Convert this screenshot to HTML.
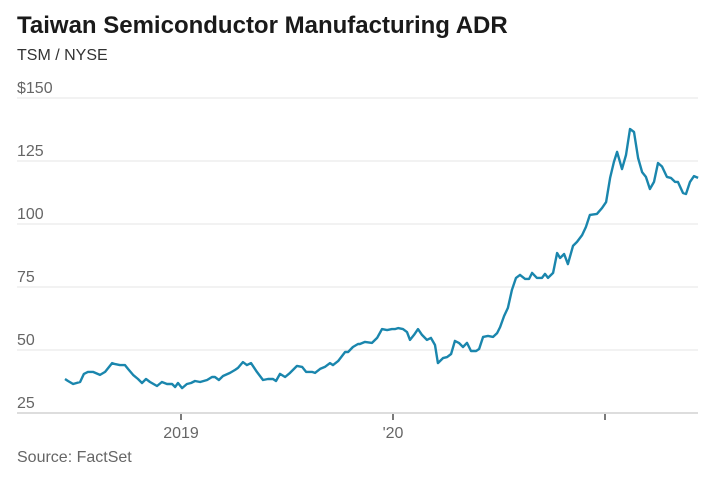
<!DOCTYPE html>
<html><head><meta charset="utf-8"><style>
body{margin:0;background:#fff;width:715px;height:477px;overflow:hidden;font-family:"Liberation Sans",sans-serif}
</style></head><body>
<svg width="715" height="477" id="c">
<text x="17" y="33" font-size="24" font-weight="bold" fill="#1a1a1a">Taiwan Semiconductor Manufacturing ADR</text>
<text x="17" y="60" font-size="16" fill="#333">TSM / NYSE</text>
<text x="17" y="462" font-size="16" fill="#666">Source: FactSet</text>
<g id="grid"></g><g id="xa"></g><g id="ln"></g>
</svg>
<script>
const yTicks=[25,50,75,100,125,150];
const yTickLabels=["25","50","75","100","125","$150"];
const xTicks=[2019,2020,2021];
const xTickLabels=["2019","'20",""];
const dates=[2018.453,2018.467,2018.491,2018.524,2018.542,2018.561,2018.585,2018.618,2018.642,2018.675,2018.689,2018.712,2018.736,2018.750,2018.774,2018.797,2018.816,2018.835,2018.854,2018.887,2018.910,2018.934,2018.958,2018.972,2018.986,2019.005,2019.028,2019.047,2019.066,2019.090,2019.123,2019.146,2019.160,2019.179,2019.198,2019.231,2019.255,2019.269,2019.292,2019.311,2019.330,2019.358,2019.387,2019.410,2019.434,2019.448,2019.467,2019.491,2019.514,2019.547,2019.571,2019.590,2019.618,2019.632,2019.656,2019.679,2019.703,2019.717,2019.741,2019.774,2019.788,2019.811,2019.835,2019.844,2019.868,2019.901,2019.925,2019.948,2019.972,2019.995,2020.009,2020.024,2020.047,2020.066,2020.080,2020.099,2020.118,2020.137,2020.160,2020.179,2020.198,2020.212,2020.236,2020.255,2020.274,2020.292,2020.311,2020.330,2020.349,2020.368,2020.392,2020.406,2020.425,2020.448,2020.472,2020.491,2020.505,2020.524,2020.542,2020.561,2020.580,2020.599,2020.623,2020.642,2020.656,2020.679,2020.703,2020.717,2020.731,2020.755,2020.774,2020.788,2020.807,2020.825,2020.849,2020.868,2020.892,2020.910,2020.929,2020.962,2020.986,2021.005,2021.024,2021.042,2021.057,2021.080,2021.099,2021.118,2021.137,2021.156,2021.175,2021.193,2021.212,2021.231,2021.250,2021.269,2021.292,2021.311,2021.330,2021.344,2021.368,2021.382,2021.401,2021.420,2021.439];
const prices=[38.5,37.7,36.5,37.3,40.5,41.3,41.3,40.1,41.3,44.8,44.4,44.0,44.0,42.5,40.1,38.5,36.9,38.5,37.3,35.7,37.3,36.5,36.5,35.3,36.9,34.9,36.5,36.9,37.7,37.3,38.1,39.3,39.3,38.1,39.7,40.9,42.1,42.9,45.2,44.0,44.8,41.3,38.1,38.5,38.5,37.7,40.5,39.3,40.9,43.7,43.3,41.3,41.3,40.9,42.5,43.3,44.8,44.0,45.6,49.2,49.2,51.2,52.4,52.4,53.2,52.8,54.8,58.3,57.9,58.3,58.3,58.7,58.3,57.1,54.0,56.0,58.3,56.0,54.0,54.8,52.0,44.8,46.8,47.2,48.4,53.6,52.8,51.2,52.8,49.6,49.6,50.4,55.2,55.6,55.2,56.7,59.1,63.5,66.7,73.8,78.6,79.8,78.2,78.2,80.6,78.6,78.6,80.2,78.6,80.6,88.5,86.5,88.1,84.1,91.3,92.9,95.6,98.8,103.6,104.0,106.3,108.7,118.3,124.6,128.6,121.8,127.4,137.7,136.5,126.2,120.6,118.7,113.9,116.7,124.2,122.8,118.7,118.3,116.7,116.7,112.3,111.9,116.7,119.0,118.3];
const X0=181,PXY=212,Y0=413,PXV=2.52;
const xs=d=>X0+(d-2019)*PXY, ys=v=>Y0-(v-25)*PXV;
const NS="http://www.w3.org/2000/svg";
function mk(t,a,p){const e=document.createElementNS(NS,t);for(const k in a)e.setAttribute(k,a[k]);p.appendChild(e);return e;}
const grid=document.getElementById('grid');
yTicks.forEach((v,i)=>{
 const l=mk('line',{x1:17,x2:698,y1:ys(v),y2:ys(v),stroke:i==0?'#ddd':'#e6e6e6','stroke-width':i==0?2:1},grid);
 
 
 const t=mk('text',{x:17,y:ys(v)-5,'font-size':16,fill:'#666'},grid);t.textContent=yTickLabels[i];
 
 
});
const xa=document.getElementById('xa');
xTicks.forEach((d,i)=>{
 const l=mk('line',{x1:xs(d),x2:xs(d),y1:414,y2:420,stroke:'#333','stroke-width':1.3},xa);
 
 
 const t=mk('text',{x:xs(d),y:438,'font-size':16,fill:'#666','text-anchor':'middle'},xa);t.textContent=xTickLabels[i];
 
 
});
const p=mk('path',{d:dates.map((d,i)=>(i?'L':'M')+xs(d).toFixed(1)+','+ys(prices[i]).toFixed(1)).join(''),fill:'none',stroke:'#1a86ad','stroke-width':2.4,'stroke-linejoin':'round'},document.getElementById('ln'));


</script>
</body></html>
